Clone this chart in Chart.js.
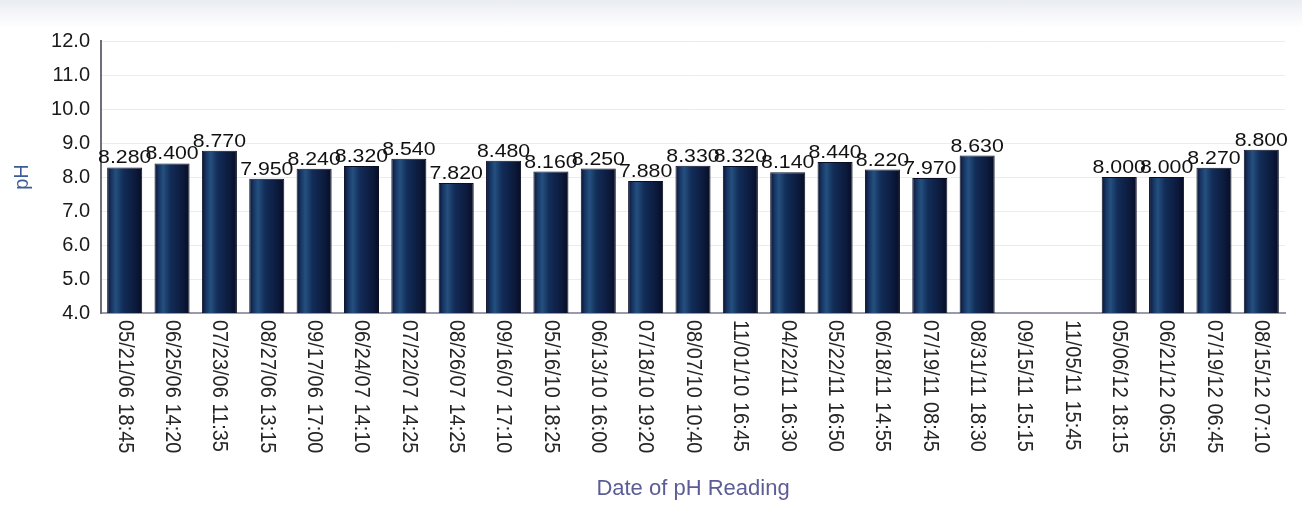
<!DOCTYPE html>
<html>
<head>
<meta charset="utf-8">
<script src="https://cdn.jsdelivr.net/npm/chart.js@4/dist/chart.umd.min.js"></script>
<style>
  html, body { margin: 0; padding: 0; }
  body {
    width: 1302px; height: 506px; overflow: hidden;
    background: linear-gradient(to bottom, #e9ecf1 0px, #f3f5f8 12px, #ffffff 28px);
  }
  canvas { display: block; }
</style>
</head>
<body>
<canvas id="ph" width="1302" height="506"></canvas>
<script>
// readings (null = no value recorded)
const readingDates = [
  "05/21/06 18:45", "06/25/06 14:20", "07/23/06 11:35", "08/27/06 13:15",
  "09/17/06 17:00", "06/24/07 14:10", "07/22/07 14:25", "08/26/07 14:25",
  "09/16/07 17:10", "05/16/10 18:25", "06/13/10 16:00", "07/18/10 19:20",
  "08/07/10 10:40", "11/01/10 16:45", "04/22/11 16:30", "05/22/11 16:50",
  "06/18/11 14:55", "07/19/11 08:45", "08/31/11 18:30", "09/15/11 15:15",
  "11/05/11 15:45", "05/06/12 18:15", "06/21/12 06:55", "07/19/12 06:45",
  "08/15/12 07:10"
];
const phValues = [
  8.28, 8.40, 8.77, 7.95, 8.24, 8.32, 8.54, 7.82, 8.48, 8.16, 8.25, 7.88,
  8.33, 8.32, 8.14, 8.44, 8.22, 7.97, 8.63, null, null, 8.00, 8.00, 8.27, 8.80
];
const yMin = 4, yMax = 12, yStep = 1;

const FONT = "'Liberation Sans', Arial, sans-serif";

// bar shading, dark edges with a lighter stripe on the left
function barFill(c) {
  const el = c.chart.getDatasetMeta(0).data[c.dataIndex];
  if (!el || el.width == null || isNaN(el.x)) return "#102448";
  const g = c.chart.ctx.createLinearGradient(el.x - el.width / 2, 0, el.x + el.width / 2, 0);
  g.addColorStop(0, "#0a1230");
  g.addColorStop(0.12, "#173563");
  g.addColorStop(0.25, "#24507f");
  g.addColorStop(0.45, "#122d58");
  g.addColorStop(0.8, "#0c1a3c");
  g.addColorStop(1, "#070d24");
  return g;
}

const valueLabels = {
  id: "valueLabels",
  afterDatasetsDraw(chart) {
    const ctx = chart.ctx;
    const meta = chart.getDatasetMeta(0);
    ctx.save();
    ctx.font = "19px " + FONT;
    ctx.fillStyle = "#111111";
    ctx.textAlign = "center";
    ctx.textBaseline = "alphabetic";
    meta.data.forEach((bar, i) => {
      const v = phValues[i];
      if (v == null) return;
      // source text is a little wider than tall
      ctx.save();
      ctx.translate(bar.x, bar.y - 4);
      ctx.scale(1.12, 1);
      ctx.fillText(v.toFixed(3), 0, 0);
      ctx.restore();
    });
    ctx.restore();
  }
};

// x labels read top-to-bottom
const dateLabels = {
  id: "dateLabels",
  afterDraw(chart) {
    const ctx = chart.ctx;
    const xs = chart.scales.x;
    ctx.save();
    ctx.font = "20px " + FONT;
    ctx.fillStyle = "#252525";
    ctx.textAlign = "left";
    ctx.textBaseline = "middle";
    readingDates.forEach((lbl, i) => {
      ctx.save();
      ctx.translate(xs.getPixelForTick(i), xs.top + 7);
      ctx.rotate(Math.PI / 2);
      ctx.scale(1, 1.12);
      ctx.fillText(lbl, 0, 0);
      ctx.restore();
    });
    ctx.restore();
  }
};

const chart = new Chart(document.getElementById("ph"), {
  type: "bar",
  data: {
    labels: readingDates,
    datasets: [{
      data: phValues,
      backgroundColor: barFill,
      borderColor: "#0a0f26",
      borderWidth: 1,
      barPercentage: 0.74,
      categoryPercentage: 1
    }]
  },
  options: {
    responsive: false,
    animation: false,
    devicePixelRatio: 1,
    layout: { padding: { top: 41, right: 17, left: 0, bottom: 0 } },
    plugins: { legend: { display: false }, tooltip: { enabled: false } },
    scales: {
      x: {
        grid: { display: false, drawTicks: false },
        border: { color: "#9a9aae", width: 2 },
        ticks: { display: false },
        title: {
          display: true,
          text: "Date of pH Reading",
          color: "#5c5c96",
          font: { family: FONT, size: 22 },
          padding: { top: 0, bottom: 4 }
        },
        afterFit(s) { s.height = 193; }
      },
      y: {
        min: yMin,
        max: yMax,
        ticks: {
          stepSize: yStep,
          padding: 11,
          color: "#1a1a1a",
          font: { family: FONT, size: 20 },
          callback: v => Number(v).toFixed(1)
        },
        grid: { color: "#ebebf2", lineWidth: 1, drawTicks: false },
        border: { color: "#6e6e78", width: 2 },
        title: {
          display: true,
          text: "pH",
          color: "#3d5b96",
          font: { family: FONT, size: 20 },
          padding: { top: 10, bottom: 0 }
        },
        afterFit(s) { s.width = 101; }
      }
    }
  },
  plugins: [valueLabels, dateLabels]
});
chart.update();
</script>
</body>
</html>
